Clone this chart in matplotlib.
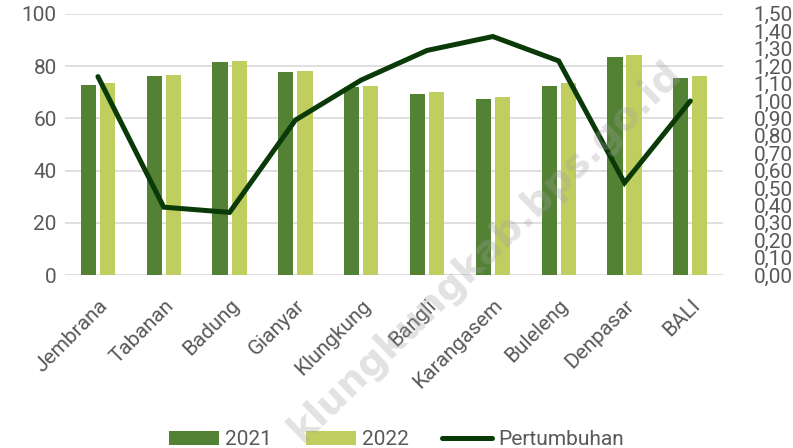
import numpy as np
import matplotlib.pyplot as plt
from matplotlib.ticker import FuncFormatter

# data
regions = ["Jembrana", "Tabanan", "Badung", "Gianyar", "Klungkung",
           "Bangli", "Karangasem", "Buleleng", "Denpasar", "BALI"]
val_2021 = [72.7, 76.4, 81.7, 77.8, 72.0, 69.2, 67.3, 72.5, 83.6, 75.6]
val_2022 = [73.6, 76.6, 82.1, 78.2, 72.5, 70.1, 68.2, 73.4, 84.4, 76.4]
growth = [1.14, 0.39, 0.36, 0.89, 1.12, 1.29, 1.37, 1.23, 0.53, 1.00]

plt.rcParams['font.family'] = ['Roboto', 'DejaVu Sans']
grey = '#595959'

fig = plt.figure(figsize=(7.93, 4.48), dpi=100)
ax = fig.add_axes([0.082, 0.386, 0.830, 0.583])
x = np.arange(len(regions))
w = 0.23

ax.bar(x - 0.145, val_2021, w, color='#548235', label='2021', zorder=2)
ax.bar(x + 0.145, val_2022, w, color='#BFCE5E', label='2022', zorder=2)
ax.set_ylim(0, 100)
ax.set_yticks(range(0, 101, 20))
ax.set_xlim(-0.5, len(regions) - 0.5)
ax.grid(axis='y', color='#D9D9D9', linewidth=1.2, zorder=0)
ax.set_axisbelow(True)
for s in ax.spines.values():
    s.set_visible(False)
ax.tick_params(length=0, labelsize=15, labelcolor=grey)
ax.tick_params(axis='y', pad=6)
ax.set_xticks(x)
ax.set_xticklabels(regions, rotation=45, ha='right', rotation_mode='anchor')
ax.tick_params(axis='x', pad=15)

ax2 = ax.twinx()
ax2.plot(x, growth, color='#0A3A07', linewidth=3.6, solid_capstyle='round',
         solid_joinstyle='miter', label='Pertumbuhan', zorder=3)
ax2.set_ylim(0, 1.5)
ax2.set_yticks(np.arange(0, 1.51, 0.1))
ax2.yaxis.set_major_formatter(FuncFormatter(lambda v, p: f"{v:.2f}".replace('.', ',')))
for s in ax2.spines.values():
    s.set_visible(False)
ax2.tick_params(length=0, labelsize=15, labelcolor=grey, pad=22)

h1, l1 = ax.get_legend_handles_labels()
h2, l2 = ax2.get_legend_handles_labels()
fig.legend(h1 + h2, l1 + l2, loc='lower center', bbox_to_anchor=(0.5, -0.045),
           ncol=3, frameon=False, fontsize=15, labelcolor=grey,
           handlelength=2.4, handletextpad=0.3, columnspacing=1.6)

# site watermark
fig.text(0.612, 0.44, "klungkungkab.bps.go.id", rotation=44, fontsize=28,
         fontweight='bold', color='#A0A0A0', alpha=0.3, ha='center', va='center',
         family='DejaVu Sans', zorder=10)

fig.savefig("out.png", dpi=100)
